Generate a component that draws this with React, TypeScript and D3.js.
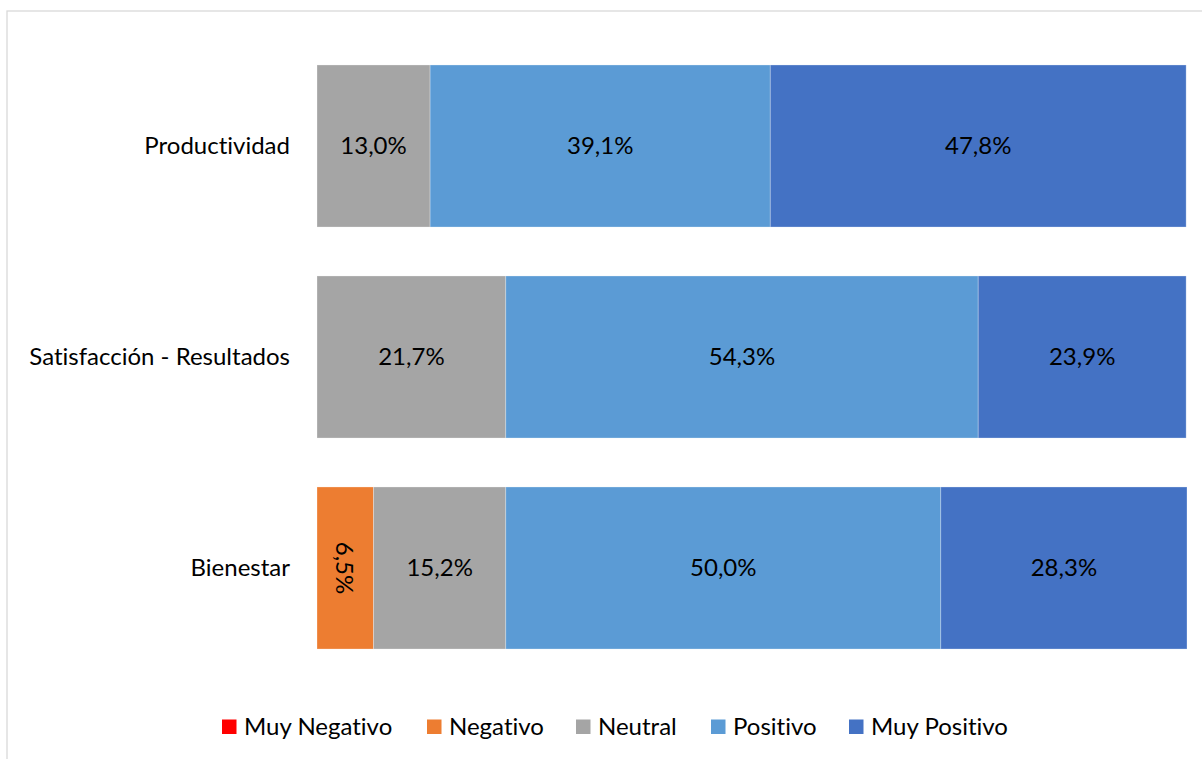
import React from "react";
import * as d3 from "d3";

const categories = ["Productividad", "Satisfacción - Resultados", "Bienestar"];
const seriesNames = ["Muy Negativo", "Negativo", "Neutral", "Positivo", "Muy Positivo"];
const seriesColors = ["#FF0000", "#ED7D31", "#A5A5A5", "#5B9BD5", "#4472C4"];
const muyNegativo = [0, 0, 0];
const negativo = [0, 0, 6.5];
const neutral = [13.0, 21.7, 15.2];
const positivo = [39.1, 54.3, 50.0];
const muyPositivo = [47.8, 23.9, 28.3];

const W = 1202;
const H = 759;
const FONT = "Lato, 'Open Sans', sans-serif";
const FS = 24;
const TXT_STYLE = { fontVariantLigatures: "none" as const, fontFeatureSettings: "'liga' 0, 'clig' 0" };

export default function App() {
  const seriesValues = [muyNegativo, negativo, neutral, positivo, muyPositivo];
  const rows = categories.map((c, i) => {
    const r: any = { cat: c };
    seriesNames.forEach((s, j) => (r[s] = seriesValues[j][i]));
    return r;
  });
  const stack = d3.stack<any>().keys(seriesNames)(rows);
  const x = d3.scaleLinear().domain([0, 100]).range([317, 1187]);
  const y = d3
    .scaleBand<string>()
    .domain(categories)
    .range([40.5, 673.5])
    .paddingInner(0.232)
    .paddingOuter(0.116);
  const fmt = (v: number) => d3.format(".1f")(v).replace(".", ",") + "%";

  const legendX = [222, 427, 576, 711, 849];

  return (
    <svg width={W} height={H} style={{ position: "absolute", left: 0, top: 0, display: "block" }}>
      <rect x={0} y={0} width={W} height={H} fill="#fff" />
      <rect x={7} y={11} width={W + 10} height={H + 10} fill="none" stroke="#D9D9D9" strokeWidth={1.3} />
      {stack.map((s, si) => (
        <g key={s.key}>
          {s.map((d: any, i: number) => {
            const v = d[1] - d[0];
            if (v <= 0) return null;
            const x0 = x(d[0]);
            const w = x(d[1]) - x0;
            const yy = y(categories[i])!;
            const bh = y.bandwidth();
            const cx = x0 + w / 2;
            const cy = yy + bh / 2;
            const narrow = w < 70;
            return (
              <g key={i}>
                <rect x={x0} y={yy} width={w} height={bh} fill={seriesColors[si]} stroke="#ffffff" strokeOpacity={0.35} strokeWidth={0.8} />
                <g transform={`translate(${cx},${cy})${narrow ? " rotate(90)" : ""}`}>
                  <text
                    x={0}
                    y={0}
                    dy={narrow ? 0 : -2}
                    textAnchor="middle"
                    dominantBaseline="central"
                    fontFamily={FONT}
                    fontSize={FS}
                    fill="#000"
                    style={TXT_STYLE}
                  >
                    {fmt(v)}
                  </text>
                </g>
              </g>
            );
          })}
        </g>
      ))}
      {categories.map((c) => (
        <text
          key={c}
          x={290}
          y={y(c)! + y.bandwidth() / 2}
          dy={-2}
          textAnchor="end"
          dominantBaseline="central"
          fontFamily={FONT}
          fontSize={FS}
          fill="#000"
          style={TXT_STYLE}
        >
          {c}
        </text>
      ))}
      {seriesNames.map((s, i) => (
        <g key={s}>
          <rect x={legendX[i]} y={719.5} width={14.5} height={14.5} fill={seriesColors[i]} />
          <text x={legendX[i] + 22} y={725} dominantBaseline="central" fontFamily={FONT} fontSize={FS} fill="#000" style={TXT_STYLE}>
            {s}
          </text>
        </g>
      ))}
    </svg>
  );
}
